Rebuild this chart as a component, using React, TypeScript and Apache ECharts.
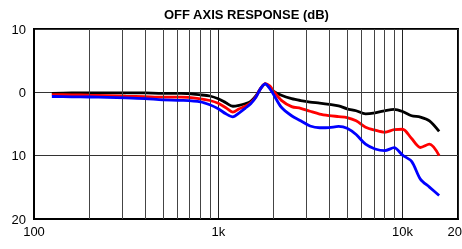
import React, { useEffect, useRef } from "react";
import * as echarts from "echarts";

const freqs = [125, 160, 200, 250, 315, 400, 500, 630, 800, 900, 1000, 1100, 1200, 1300, 1400, 1500, 1600, 1700, 1800, 1900, 2000, 2200, 2500, 2800, 3150, 3550, 4000, 4500, 5000, 5600, 6300, 7100, 8000, 9000, 10000, 11200, 12500, 14000, 15800];

const black = [-0.16, -0.1, -0.08, -0.08, -0.08, -0.1, -0.16, -0.15, -0.4, -0.58, -1.02, -1.65, -2.2, -2.05, -1.8, -1.42, -0.55, 0.63, 1.34, 0.79, 0.16, -0.47, -1.0, -1.3, -1.54, -1.7, -1.89, -2.13, -2.6, -2.91, -3.39, -3.23, -2.91, -2.68, -3.02, -3.7, -3.9, -4.5, -6.17];

const red = [-0.35, -0.39, -0.46, -0.52, -0.6, -0.68, -0.76, -0.76, -1.02, -1.29, -1.73, -2.44, -3.12, -2.6, -2.2, -1.65, -0.71, 0.63, 1.37, 1.02, 0.16, -1.26, -2.25, -2.52, -2.99, -3.43, -3.67, -3.83, -3.98, -4.5, -5.51, -5.98, -6.3, -5.9, -5.83, -7.3, -8.71, -8.19, -10.0];

const blue = [-0.66, -0.71, -0.74, -0.79, -0.87, -0.99, -1.18, -1.26, -1.5, -1.97, -2.6, -3.39, -3.86, -3.23, -2.52, -1.81, -0.79, 0.63, 1.34, 0.63, -0.39, -2.36, -3.7, -4.49, -5.32, -5.59, -5.56, -5.39, -5.67, -6.66, -8.19, -8.94, -9.21, -8.74, -9.92, -10.9, -13.7, -14.96, -16.3];

const minorGridFreqs = [200, 300, 400, 500, 600, 700, 800, 900, 2000, 3000, 4000, 5000, 6000, 7000, 8000, 9000];

const titleText = "OFF AXIS RESPONSE (dB)";
const FONT = "'Liberation Sans', Arial, Helvetica, sans-serif";

export default function App() {
  const ref = useRef<HTMLDivElement>(null);
  useEffect(() => {
    const chart = echarts.init(ref.current!, null, { renderer: "svg" });
    const mk = (vals: number[]) => freqs.map((f, i) => [f, vals[i]]);
    const lineSeries = (name: string, vals: number[], color: string, z: number) => ({
      name,
      type: "line",
      data: mk(vals),
      showSymbol: false,
      symbol: "none",
      smooth: 0.3,
      z,
      lineStyle: { color, width: 2.8 },
    });
    chart.setOption({
      animation: false,
      title: {
        text: titleText,
        left: 164,
        top: 8,
        padding: 0,
        textStyle: { fontSize: 13, fontWeight: "bold", color: "#000", fontFamily: FONT },
      },
      grid: {
        left: 34,
        right: 4,
        top: 29,
        bottom: 30,
        show: true,
        borderColor: "#000",
        borderWidth: 2,
        backgroundColor: "transparent",
        outerBoundsMode: "none",
        containLabel: false,
      },
      xAxis: {
        type: "log",
        logBase: 10,
        min: 100,
        max: 20000,
        axisLine: { show: true, onZero: false, lineStyle: { color: "#000", width: 2 } },
        axisTick: { show: false },
        axisLabel: {
          color: "#000",
          fontSize: 13,
          fontFamily: FONT,
          margin: 6,
          hideOverlap: false,
          formatter: (v: number) => {
            const r = Math.round(v);
            return r >= 1000 ? r / 1000 + "k" : String(r);
          },
        },
        splitLine: { show: true, lineStyle: { color: "#222", width: 1 } },
      },
      yAxis: {
        type: "value",
        min: -20,
        max: 10,
        interval: 10,
        axisLine: { show: true, lineStyle: { color: "#000", width: 2 } },
        axisTick: { show: false },
        axisLabel: {
          color: "#000",
          fontSize: 13,
          fontFamily: FONT,
          margin: 8,
          formatter: (v: number) => String(Math.abs(v)),
        },
        splitLine: { show: true, lineStyle: { color: "#333", width: 1 } },
      },
      series: [
        {
          name: "grid",
          type: "line",
          data: [],
          z: 1,
          markLine: {
            silent: true,
            symbol: "none",
            label: { show: false },
            lineStyle: { color: "#444", width: 1, type: "solid" },
            data: minorGridFreqs.map((f) => ({ xAxis: f })),
          },
        },
        lineSeries("black", black, "#000000", 3),
        lineSeries("red", red, "#ff0000", 4),
        lineSeries("blue", blue, "#0000ff", 5),
      ],
    });
    return () => chart.dispose();
  }, []);
  return <div ref={ref} style={{ position: "fixed", left: 0, top: 0, width: 462, height: 249 }} />;
}
